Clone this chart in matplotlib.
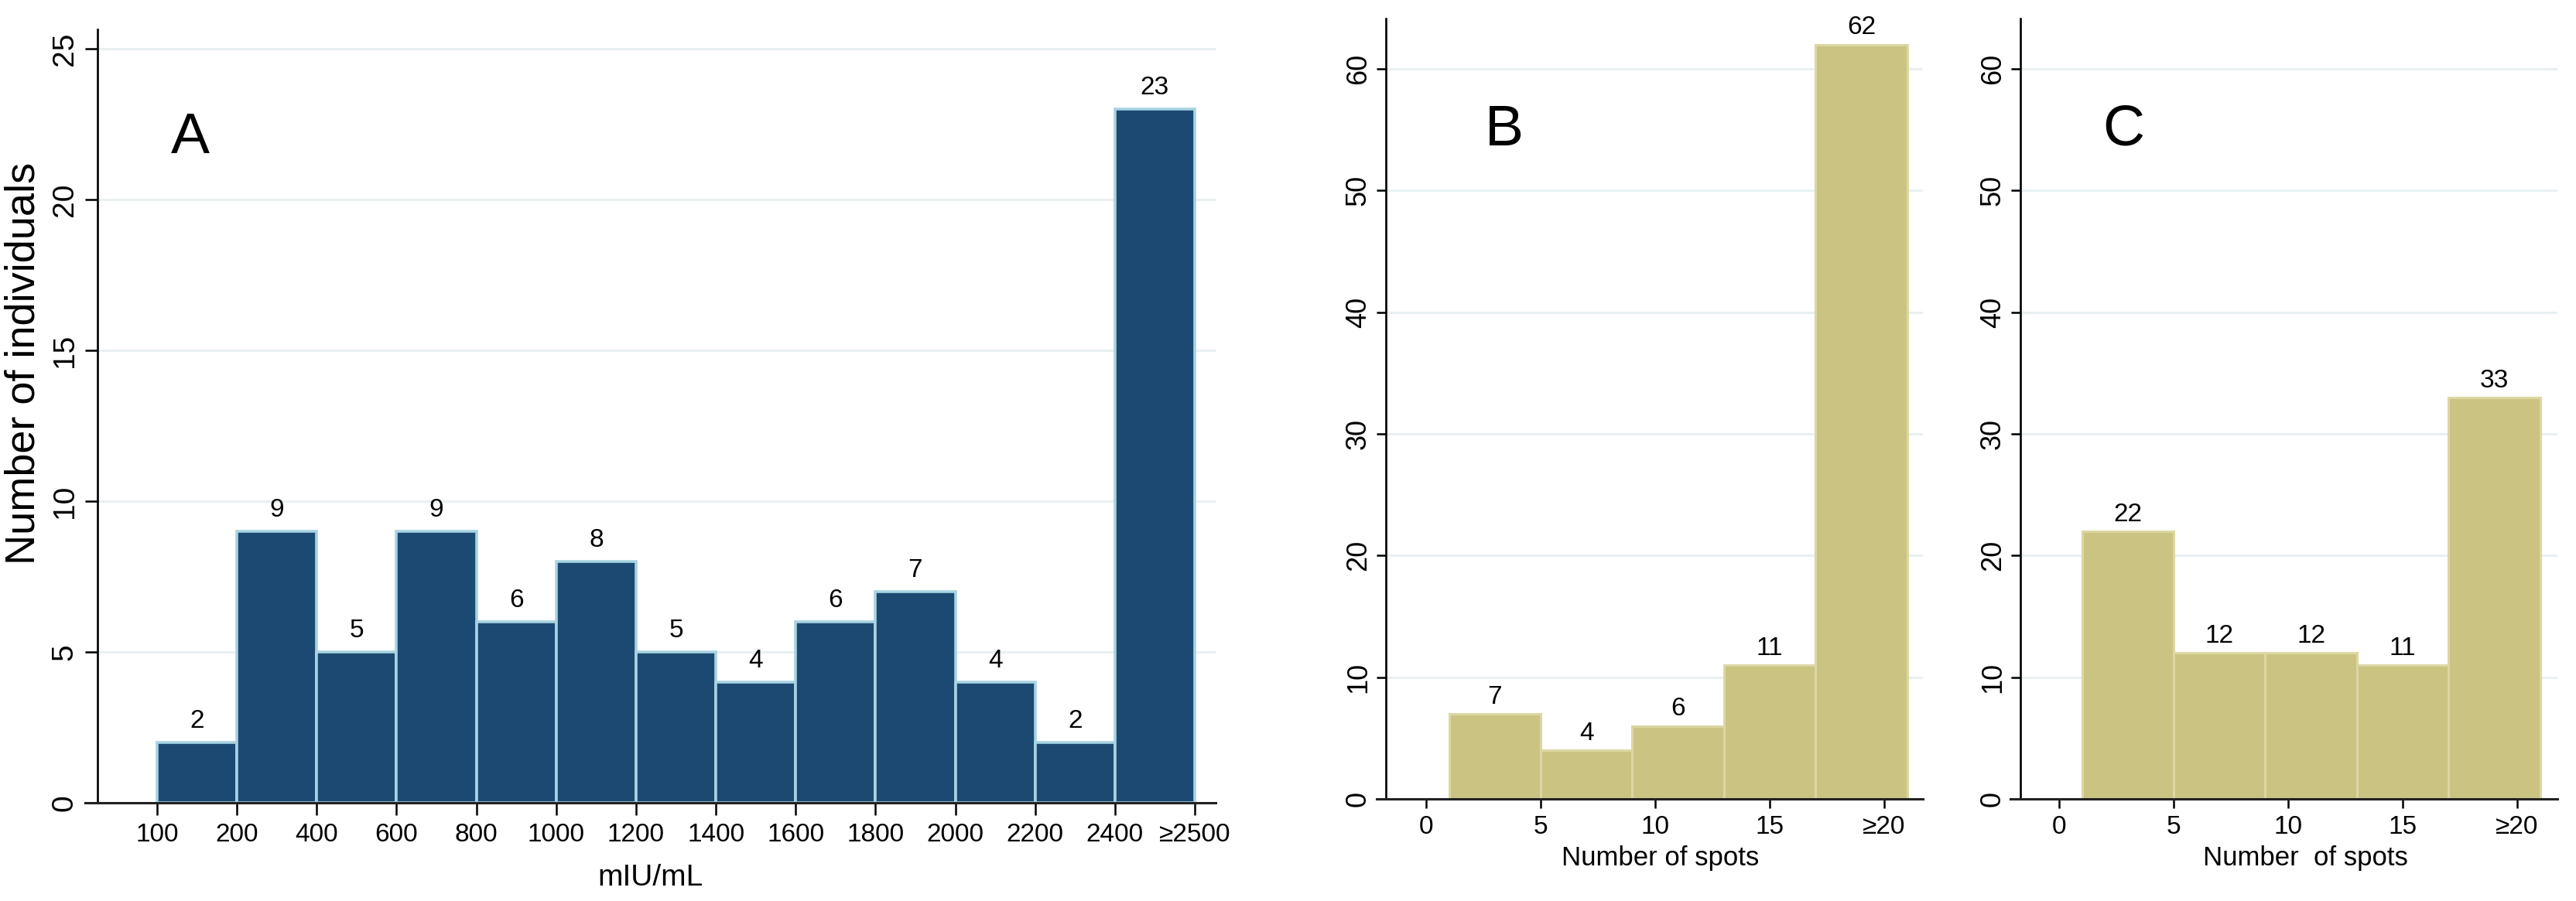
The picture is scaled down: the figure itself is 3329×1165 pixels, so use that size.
import numpy as np
import matplotlib
matplotlib.use('Agg')
import matplotlib.pyplot as plt

plt.rcParams['font.family'] = ['Liberation Sans', 'DejaVu Sans']

# ---------------- data ----------------
a_tick_labels = ['100', '200', '400', '600', '800', '1000', '1200', '1400',
                 '1600', '1800', '2000', '2200', '2400', '≥2500']
a_counts = [2, 9, 5, 9, 6, 8, 5, 4, 6, 7, 4, 2, 23]
a_yticks = [0, 5, 10, 15, 20, 25]

spot_edges = [1, 5, 9, 13, 17, 21]
spot_ticks = [0, 5, 10, 15, 20]
spot_tick_labels = ['0', '5', '10', '15', '≥20']
b_counts = [7, 4, 6, 11, 62]
c_counts = [22, 12, 12, 11, 33]
bc_yticks = [0, 10, 20, 30, 40, 50, 60]

# ---------------- style ----------------
W, H = 3330, 1165
A_FILL, A_EDGE = '#1c4971', '#a8d3e3'
S_FILL, S_EDGE = '#cbc382', '#dcd7a3'
GRID = '#e8f0f2'

fig = plt.figure(figsize=(W / 100, H / 100), dpi=100)


def rect(l, r, b, t):
    return [l / W, 1 - b / H, (r - l) / W, (b - t) / H]


def style_axis(ax, spine_x, ticklen, ytick_size, xpad, ypad):
    for s in ['top', 'right']:
        ax.spines[s].set_visible(False)
    ax.spines['left'].set_position(('data', spine_x))
    ax.spines['left'].set_linewidth(1.9)
    ax.spines['bottom'].set_linewidth(2.2)
    ax.spines['bottom'].set_color('#222222')
    ax.tick_params(axis='both', direction='out', length=ticklen, width=1.8,
                   colors='black')
    ax.tick_params(axis='x', labelsize=24, pad=xpad)
    ax.tick_params(axis='y', labelsize=ytick_size, pad=ypad)
    for lab in ax.get_yticklabels():
        lab.set_rotation(90)
        lab.set_va('center')
        lab.set_ha('right')
    ax.set_axisbelow(True)
    ax.yaxis.grid(True, color=GRID, linewidth=2.2)
    ax.xaxis.grid(False)


# ---------------- Panel A ----------------
axA = fig.add_axes(rect(110, 1571, 1038, 38))
xa = np.arange(len(a_counts))
barsA = axA.bar(xa, a_counts, width=1.0, align='edge', color=A_FILL,
                edgecolor=A_EDGE, linewidth=2.6)
axA.bar_label(barsA, labels=[str(v) for v in a_counts], padding=8.5,
              fontsize=24)
axA.set_xlim(-0.9016, 13.262)
axA.set_ylim(0, 25.64)
axA.set_xticks(np.arange(len(a_tick_labels)))
axA.set_xticklabels(a_tick_labels)
axA.set_yticks(a_yticks)
style_axis(axA, -0.7465, 11.5, 28, 7, 6)
axA.text(0.5, -0.097, 'mIU/mL', transform=axA.transAxes, ha='center',
         va='center', fontsize=28)
axA.text(0.093, 0.86, 'A', transform=axA.transAxes, ha='center',
         va='center', fontsize=54)
fig.text(31 / W, 1 - 470 / H, 'Number of individuals', rotation=90,
         ha='center', va='center', fontsize=39)


# ---------------- Panels B and C ----------------
def spot_panel(l, r, xl, xr, spine_x, counts, letter, letter_x, xlabel,
               xlabel_x):
    ax = fig.add_axes(rect(l, r, 1033, 24))
    bars = ax.bar(spot_edges[:-1], counts, width=np.diff(spot_edges),
                  align='edge', color=S_FILL, edgecolor=S_EDGE, linewidth=2.2)
    ax.bar_label(bars, labels=[str(v) for v in counts], padding=4.5,
                 fontsize=24)
    ax.set_xlim(xl, xr)
    ax.set_ylim(0, 64.13)
    ax.set_xticks(spot_ticks)
    ax.set_xticklabels(spot_tick_labels)
    ax.set_yticks(bc_yticks)
    style_axis(ax, spine_x, 8.6, 26, 6.5, 4.5)
    ax.text(xlabel_x, -0.0763, xlabel, transform=ax.transAxes, ha='center',
            va='center', fontsize=25)
    ax.text(letter_x, 0.857, letter, transform=ax.transAxes, ha='center',
            va='center', fontsize=54)
    return ax


axB = spot_panel(1779, 2485, -2.162, 21.69, -1.757, b_counts, 'B', 0.234,
                 'Number of spots', 0.52)
axC = spot_panel(2598, 3305, -2.128, 21.76, -1.689, c_counts, 'C', 0.207,
                 'Number  of spots', 0.54)

fig.savefig('out.png', dpi=100, facecolor='white')
